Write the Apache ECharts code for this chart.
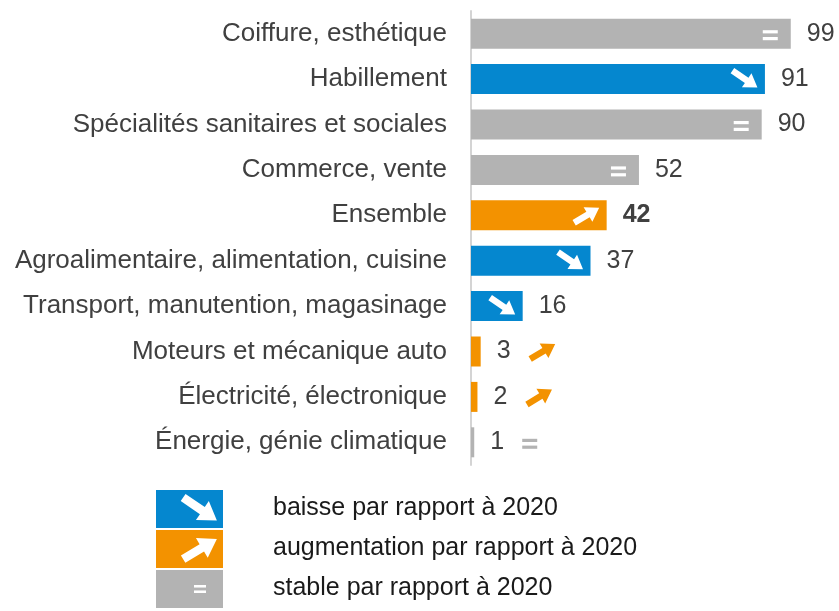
<!DOCTYPE html>
<html>
<head>
<meta charset="utf-8">
<script src="https://cdn.jsdelivr.net/npm/echarts@6/dist/echarts.min.js"></script>
<style>
  html, body { margin: 0; padding: 0; background: #ffffff; }
  #chart { width: 839px; height: 611px; }
</style>
</head>
<body>
<div id="chart"></div>
<script>
// Domaines de formation, effectifs et évolution par rapport à 2020
const categories = [
  'Coiffure, esthétique',
  'Habillement',
  'Spécialités sanitaires et sociales',
  'Commerce, vente',
  'Ensemble',
  'Agroalimentaire, alimentation, cuisine',
  'Transport, manutention, magasinage',
  'Moteurs et mécanique auto',
  'Électricité, électronique',
  'Énergie, génie climatique'
];
const values = [99, 91, 90, 52, 42, 37, 16, 3, 2, 1];
const trends = ['stable', 'baisse', 'stable', 'stable', 'hausse', 'baisse', 'baisse', 'hausse', 'hausse', 'stable'];
const boldCategory = 'Ensemble';
const legendKeys = ['baisse', 'hausse', 'stable'];
const legendLabels = [
  'baisse par rapport à 2020',
  'augmentation par rapport à 2020',
  'stable par rapport à 2020'
];

const COLORS = { baisse: '#0587cf', hausse: '#f39200', stable: '#b3b3b3' };
const FONT = '"Liberation Sans", Arial, sans-serif';
const TEXT = '#404040';

// Thick arrow polygon from tail to tip
function arrowPolygon(tail, tip, shaftHalf, headLen, headHalf) {
  const dx = tip[0] - tail[0], dy = tip[1] - tail[1];
  const len = Math.sqrt(dx * dx + dy * dy);
  const ux = dx / len, uy = dy / len;
  const nx = -uy, ny = ux;
  const local = [
    [0, -shaftHalf], [len - headLen, -shaftHalf], [len - headLen, -headHalf],
    [len, 0], [len - headLen, headHalf], [len - headLen, shaftHalf], [0, shaftHalf]
  ];
  return local.map(p => [tail[0] + p[0] * ux + p[1] * nx, tail[1] + p[0] * uy + p[1] * ny]);
}

// Trend icon centred on (cx, cy): arrow down/up or equals sign
function trendIcon(kind, cx, cy, color, scale) {
  const s = scale || 1;
  if (kind === 'stable') {
    const w = 15 * s, h = 3.2 * s, gap = 3.6 * s;
    return [
      { type: 'rect', shape: { x: cx - w / 2, y: cy - gap / 2 - h, width: w, height: h }, style: { fill: color } },
      { type: 'rect', shape: { x: cx - w / 2, y: cy + gap / 2, width: w, height: h }, style: { fill: color } }
    ];
  }
  const dir = kind === 'baisse' ? 1 : -1;
  const w = 25 * s, h = (kind === 'baisse' ? 17 : 15) * s;
  const tail = [cx - w / 2, cy - dir * h / 2];
  const tip = [cx + w / 2, cy + dir * h / 2];
  return [{
    type: 'polygon',
    shape: { points: arrowPolygon(tail, tip, 3.2 * s, 13 * s, 8.5 * s) },
    style: { fill: color }
  }];
}

const barData = values.map((v, i) => {
  const item = { value: v, itemStyle: { color: COLORS[trends[i]] } };
  if (categories[i] === boldCategory) item.label = { fontWeight: 'bold' };
  return item;
});

const iconData = values.map((v, i) => [v, i]);

// Legend drawn as graphic elements below the chart
const legendGraphics = [];
const legendTop = 490, legendStep = 40;
legendKeys.forEach((k, i) => {
  const y = legendTop + i * legendStep;
  legendGraphics.push({
    type: 'rect', shape: { x: 156, y: y, width: 67, height: 38 },
    style: { fill: COLORS[k] }, silent: true
  });
  const icons = trendIcon(k, 200, y + 19, '#ffffff', k === 'stable' ? 0.8 : 1.35);
  icons.forEach(g => { g.silent = true; legendGraphics.push(g); });
  legendGraphics.push({
    type: 'text', x: 273, y: y + 18,
    style: { text: legendLabels[i], fill: '#1a1a1a', font: '25px ' + FONT, textVerticalAlign: 'middle' },
    silent: true
  });
});

const chart = echarts.init(document.getElementById('chart'), null, { renderer: 'canvas' });
chart.setOption({
  animation: false,
  backgroundColor: '#ffffff',
  grid: { left: 471, right: 45, top: 11, bottom: 146, containLabel: false },
  xAxis: { type: 'value', min: 0, max: 100, show: false },
  yAxis: {
    type: 'category', data: categories, inverse: true,
    axisLine: { show: true, lineStyle: { color: '#d4d4d4', width: 2 } },
    axisTick: { show: false },
    axisLabel: { color: TEXT, fontSize: 26, fontFamily: FONT, margin: 24 }
  },
  series: [
    {
      type: 'bar', data: barData, barWidth: 30, silent: true,
      label: {
        show: true, position: 'right', distance: 16,
        color: TEXT, fontSize: 25, fontFamily: FONT
      }
    },
    {
      type: 'custom', data: iconData, silent: true, z: 5,
      renderItem: function (params, api) {
        const i = params.dataIndex;
        const kind = trends[i];
        const end = api.coord([api.value(0), api.value(1)]);
        const zero = api.coord([0, api.value(1)]);
        const inside = end[0] - zero[0] > 40;
        const iconW = kind === 'stable' ? 15 : 28;
        let cx, color;
        if (inside) {
          cx = end[0] - (kind === 'stable' ? 13 : 6) - iconW / 2;
          color = '#ffffff';
        } else {
          cx = end[0] + 48 + iconW / 2;
          color = COLORS[kind];
        }
        const cy = end[1] + (kind === 'stable' ? 1.5 : 0);
        return { type: 'group', children: trendIcon(kind, cx, cy, color, 1) };
      }
    }
  ],
  graphic: legendGraphics
});
</script>
</body>
</html>
